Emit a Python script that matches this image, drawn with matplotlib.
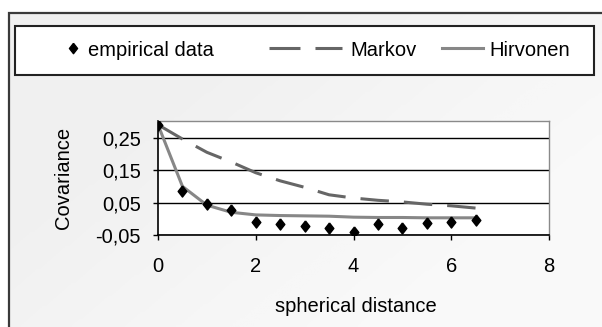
import numpy as np
import matplotlib
matplotlib.use("Agg")
import matplotlib.pyplot as plt
from matplotlib.patches import Rectangle
from matplotlib.lines import Line2D
from matplotlib.ticker import FuncFormatter

# data
distance = [0, 0.5, 1, 1.5, 2, 2.5, 3, 3.5, 4, 4.5, 5, 5.5, 6, 6.5]
empirical = [0.29, 0.086, 0.046, 0.027, -0.009, -0.016, -0.021, -0.028,
             -0.040, -0.016, -0.028, -0.014, -0.010, -0.003]
markov = [0.29, 0.246, 0.205, 0.175, 0.142, 0.117, 0.097, 0.074,
          0.064, 0.057, 0.052, 0.045, 0.040, 0.033]
hirvonen = [0.29, 0.100, 0.042, 0.020, 0.012, 0.010, 0.009, 0.008,
            0.005, 0.004, 0.004, 0.003, 0.003, 0.003]

x_ticks = [0, 2, 4, 6, 8]
y_ticks = [-0.05, 0.05, 0.15, 0.25]

W, H = 602, 327
plt.rcParams['font.family'] = ['Liberation Sans', 'DejaVu Sans']
plt.rcParams['lines.scale_dashes'] = False
FS = 14.5

# slightly taller-than-wide diamond, like the Excel marker
DIAMOND = [(0, 1), (0.78, 0), (0, -1), (-0.78, 0), (0, 1)]


def fx(x):
    return x / W


def fy(y):
    return 1 - y / H


fig = plt.figure(figsize=(W / 100, H / 100), dpi=100, facecolor='white')

# faint diagonal shading of the chart area
bg = fig.add_axes([fx(9), 0, (W - 9) / W, fy(13)], zorder=-5)
gx, gy = np.meshgrid(np.linspace(0, 1, 200), np.linspace(0, 1, 120))
shade = np.clip((gx * 0.6 + gy * 0.4 - 0.3) / 0.5, 0, 1)
bg.imshow(shade, cmap='Greys_r', vmin=-12, vmax=1.6, aspect='auto',
          extent=(0, 1, 0, 1), origin='upper', interpolation='bilinear')
bg.set_axis_off()

# outer chart frame
fig.add_artist(Rectangle((fx(9), fy(340)), 620 / W, 327 / H, transform=fig.transFigure,
                         facecolor='none', edgecolor='#3a3a3a', lw=1.6, zorder=0))
# legend frame
fig.add_artist(Rectangle((fx(15), fy(75)), 579 / W, 49 / H, transform=fig.transFigure,
                         facecolor='white', edgecolor='#222222', lw=1.5, zorder=1))

ax = fig.add_axes([fx(158), fy(235), 391 / W, 113.5 / H])
ax.set_facecolor('white')

ax.plot(distance, markov, color='#666666', lw=2.2, dashes=(20.5, 10.8),
        solid_capstyle='butt', dash_capstyle='butt', zorder=3)
ax.plot(distance, hirvonen, color='#878787', lw=2.2, zorder=3)
ax.plot(distance, empirical, ls='none', marker=DIAMOND, ms=8, color='black', zorder=4)

ax.set_xlim(0, 8)
ax.set_ylim(-0.05, 0.30)
ax.set_xticks(x_ticks)
ax.set_yticks(y_ticks)
ax.yaxis.set_major_formatter(FuncFormatter(lambda v, p: f"{v:.2f}".replace('.', ',')))
ax.xaxis.set_major_formatter(FuncFormatter(lambda v, p: f"{v:g}"))
ax.grid(axis='y', color='black', lw=1.0)
ax.set_axisbelow(True)

for s in ['top', 'right']:
    ax.spines[s].set_color('#8a8a8a')
    ax.spines[s].set_linewidth(1.0)
for s in ['left', 'bottom']:
    ax.spines[s].set_color('black')
    ax.spines[s].set_linewidth(1.2)

ax.tick_params(axis='x', direction='out', length=3.6, width=1.0, pad=12, labelsize=FS)
ax.tick_params(axis='y', direction='out', length=3.6, width=1.0, pad=8.6, labelsize=FS)

ax.set_xlabel('spherical distance', fontsize=FS, va='baseline')
ax.xaxis.set_label_coords(0.506, (235 - 312) / 113.5)
ax.set_ylabel('Covariance', fontsize=FS, va='center')
ax.yaxis.set_label_coords((63 - 158) / 391, 0.5)

# legend, one entry per block so each key gets its own length
entries = [
    (Line2D([], [], ls='none', marker=DIAMOND, ms=7.5, color='black'), 'empirical data', 63, 1.0, 0.25),
    (Line2D([], [], color='#666666', lw=2.2, dashes=(22.3, 10.8)), 'Markov', 269, 3.63, 0.4),
    (Line2D([], [], color='#878787', lw=2.2), 'Hirvonen', 442, 2.04, 0.3),
]
for handle, label, left, hlen, tpad in entries:
    fig.legend([handle], [label], loc='center left', bbox_to_anchor=(fx(left), fy(50)),
               frameon=False, fontsize=FS, borderpad=0, borderaxespad=0,
               handlelength=hlen, handletextpad=tpad, numpoints=1)

fig.savefig('out.png', dpi=100, facecolor=fig.get_facecolor())
